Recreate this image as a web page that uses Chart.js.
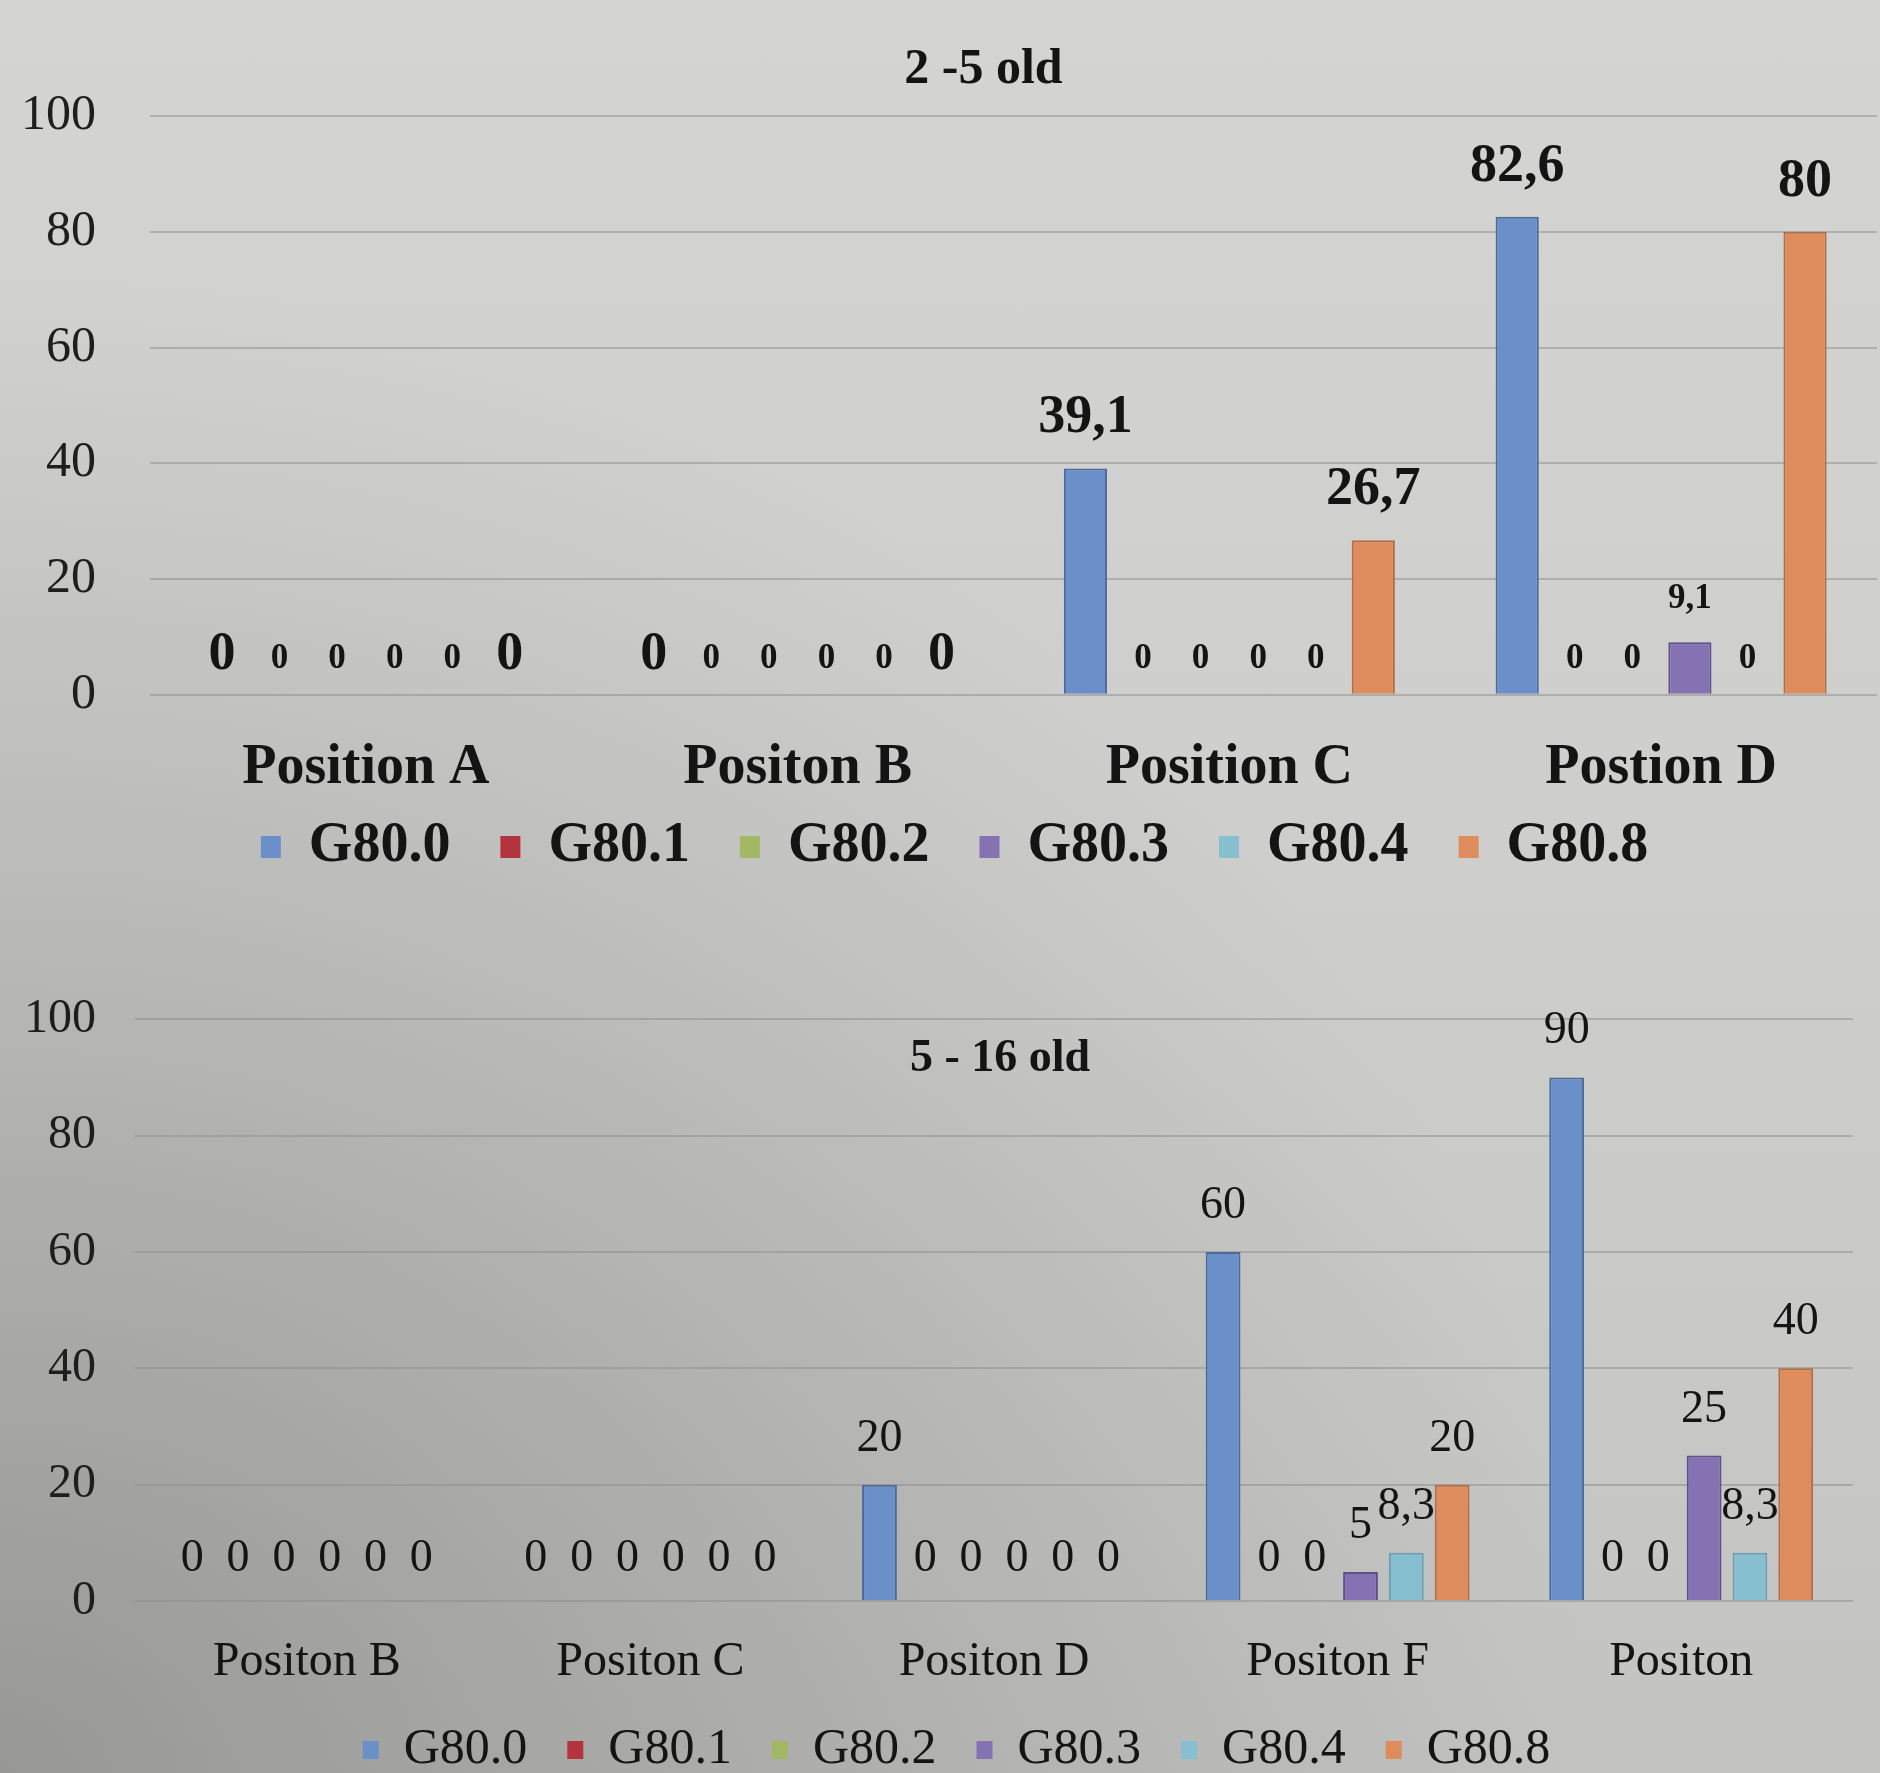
<!DOCTYPE html>
<html>
<head>
<meta charset="utf-8">
<script src="https://cdn.jsdelivr.net/npm/chart.js@4.4.1/dist/chart.umd.min.js"></script>
<style>
html, body { margin: 0; padding: 0; }
body {
  width: 1880px; height: 1773px; overflow: hidden; position: relative;
  background:
    radial-gradient(ellipse at 0% 100%, rgba(60,60,60,0.32) 0%, rgba(60,60,60,0) 60%),
    linear-gradient(to bottom, #d4d4d2 0%, #cdcdcb 55%, #c3c3c1 100%);
}
canvas { position: absolute; left: 0; }
#topChart { top: 0; }
#bottomChart { top: 920px; }
</style>
</head>
<body>
<canvas id="topChart" width="1880" height="960"></canvas>
<canvas id="bottomChart" width="1880" height="870"></canvas>
<script>
// DATA
const seriesNames = ["G80.0", "G80.1", "G80.2", "G80.3", "G80.4", "G80.8"];

const topTitle = "2 -5 old";
const topCategories = ["Position A", "Positon B", "Position C", "Postion D"];
const topG800 = [0, 0, 39.1, 82.6];
const topG801 = [0, 0, 0, 0];
const topG802 = [0, 0, 0, 0];
const topG803 = [0, 0, 0, 9.1];
const topG804 = [0, 0, 0, 0];
const topG808 = [0, 0, 26.7, 80];

const bottomTitle = "5 - 16 old";
const bottomCategories = ["Positon B", "Positon C", "Positon D", "Positon F", "Positon"];
const bottomG800 = [0, 0, 20, 60, 90];
const bottomG801 = [0, 0, 0, 0, 0];
const bottomG802 = [0, 0, 0, 0, 0];
const bottomG803 = [0, 0, 0, 5, 25];
const bottomG804 = [0, 0, 0, 8.3, 8.3];
const bottomG808 = [0, 0, 0, 20, 40];

const yMin = 0, yMax = 100, yStep = 20;

// STYLE
const fills = ["#6a8fc9", "#b3343f", "#a3b865", "#8472b2", "#86bfd0", "#de8c5c"];
const borders = ["#4b6a9c", "#8a2530", "#7f9448", "#5f4f8a", "#6aa0b0", "#b46c44"];
const serif = "'Liberation Serif', 'Times New Roman', serif";

function makeDatasets(values) {
  return values.map((vals, i) => ({
    label: seriesNames[i],
    data: vals,
    backgroundColor: fills[i],
    borderColor: borders[i],
    borderWidth: ctx => (ctx.raw === 0 ? 0 : 2),
  }));
}

// value labels drawn above each bar, comma as decimal mark
const valueLabels = {
  id: "valueLabels",
  afterDatasetsDraw(chart, args, opts) {
    const ctx = chart.ctx;
    ctx.save();
    ctx.textAlign = "center";
    ctx.textBaseline = "middle";
    ctx.fillStyle = "#141414";
    chart.data.datasets.forEach((ds, i) => {
      const st = opts.styles[i];
      ctx.font = st.font;
      chart.getDatasetMeta(i).data.forEach((bar, j) => {
        const v = ds.data[j];
        const txt = String(v).replace(".", ",");
        ctx.fillText(txt, bar.x, bar.y - (v === 0 ? st.zeroOffset : st.offset));
      });
    });
    ctx.restore();
  }
};

// nudges the legend and title blocks after layout
const boxShift = {
  id: "boxShift",
  afterLayout(chart, args, opts) {
    const l = chart.legend;
    l.top += opts.legendDy; l.bottom += opts.legendDy;
    l.left += opts.legendDx; l.right += opts.legendDx;
    const t = chart.titleBlock;
    t.left += opts.titleDx; t.right += opts.titleDx;
  }
};

const big = { font: "bold 54px " + serif, offset: 50, zeroOffset: 40 };
const small = { font: "bold 35px " + serif, offset: 43, zeroOffset: 36 };
const plain = { font: "46px " + serif, offset: 46, zeroOffset: 42 };

function yScale(width, pad, size) {
  return {
    min: yMin, max: yMax,
    ticks: { stepSize: yStep, padding: pad, color: "#1e1e1e", font: { family: serif, size: size } },
    grid: { color: "rgba(140,140,140,0.5)", lineWidth: 2, drawTicks: false },
    border: { display: false },
    afterFit(scale) { scale.width = width; }
  };
}

// TOP CHART
new Chart(document.getElementById("topChart"), {
  type: "bar",
  data: {
    labels: topCategories,
    datasets: makeDatasets([topG800, topG801, topG802, topG803, topG804, topG808]),
  },
  options: {
    responsive: false,
    animation: false,
    categoryPercentage: 0.8,
    barPercentage: 0.75,
    layout: { padding: { left: 0, right: 3, top: 0, bottom: 10 } },
    scales: {
      x: {
        grid: { display: false },
        border: { display: false },
        ticks: { padding: 32, maxRotation: 0, color: "#141414", font: { family: serif, size: 56, weight: "bold" } }
      },
      y: yScale(150, 54, 50)
    },
    plugins: {
      title: {
        display: true, text: topTitle, color: "#141414", fullSize: false,
        font: { family: serif, size: 50, weight: "bold" },
        padding: { top: 40, bottom: 16 }
      },
      legend: {
        position: "bottom",
        labels: {
          color: "#141414", boxWidth: 20, boxHeight: 22, padding: 50,
          font: { family: serif, size: 56, weight: "bold" }
        }
      },
      boxShift: { legendDx: 16, legendDy: -65, titleDx: -30 },
      tooltip: { enabled: false },
      valueLabels: { styles: [big, small, small, small, small, big] }
    }
  },
  plugins: [valueLabels, boxShift]
});

// BOTTOM CHART
new Chart(document.getElementById("bottomChart"), {
  type: "bar",
  data: {
    labels: bottomCategories,
    datasets: makeDatasets([bottomG800, bottomG801, bottomG802, bottomG803, bottomG804, bottomG808]),
  },
  options: {
    responsive: false,
    animation: false,
    categoryPercentage: 0.8,
    barPercentage: 0.76,
    layout: { padding: { left: 0, right: 27, top: 0, bottom: 5 } },
    scales: {
      x: {
        grid: { display: false },
        border: { display: false },
        ticks: { padding: 25, maxRotation: 0, color: "#141414", font: { family: serif, size: 48 } },
        afterFit(scale) { scale.height = 84; }
      },
      y: yScale(135, 39, 48)
    },
    plugins: {
      title: {
        display: true, text: bottomTitle, color: "#141414", fullSize: false,
        font: { family: serif, size: 46, weight: "bold" },
        padding: { top: 112, bottom: -68 }
      },
      legend: {
        position: "bottom",
        labels: {
          color: "#141414", boxWidth: 16, boxHeight: 18, padding: 40,
          font: { family: serif, size: 50 }
        }
      },
      boxShift: { legendDx: 30, legendDy: 0, titleDx: 6 },
      tooltip: { enabled: false },
      valueLabels: { styles: [plain, plain, plain, plain, plain, plain] }
    }
  },
  plugins: [valueLabels, boxShift]
});
</script>
</body>
</html>
